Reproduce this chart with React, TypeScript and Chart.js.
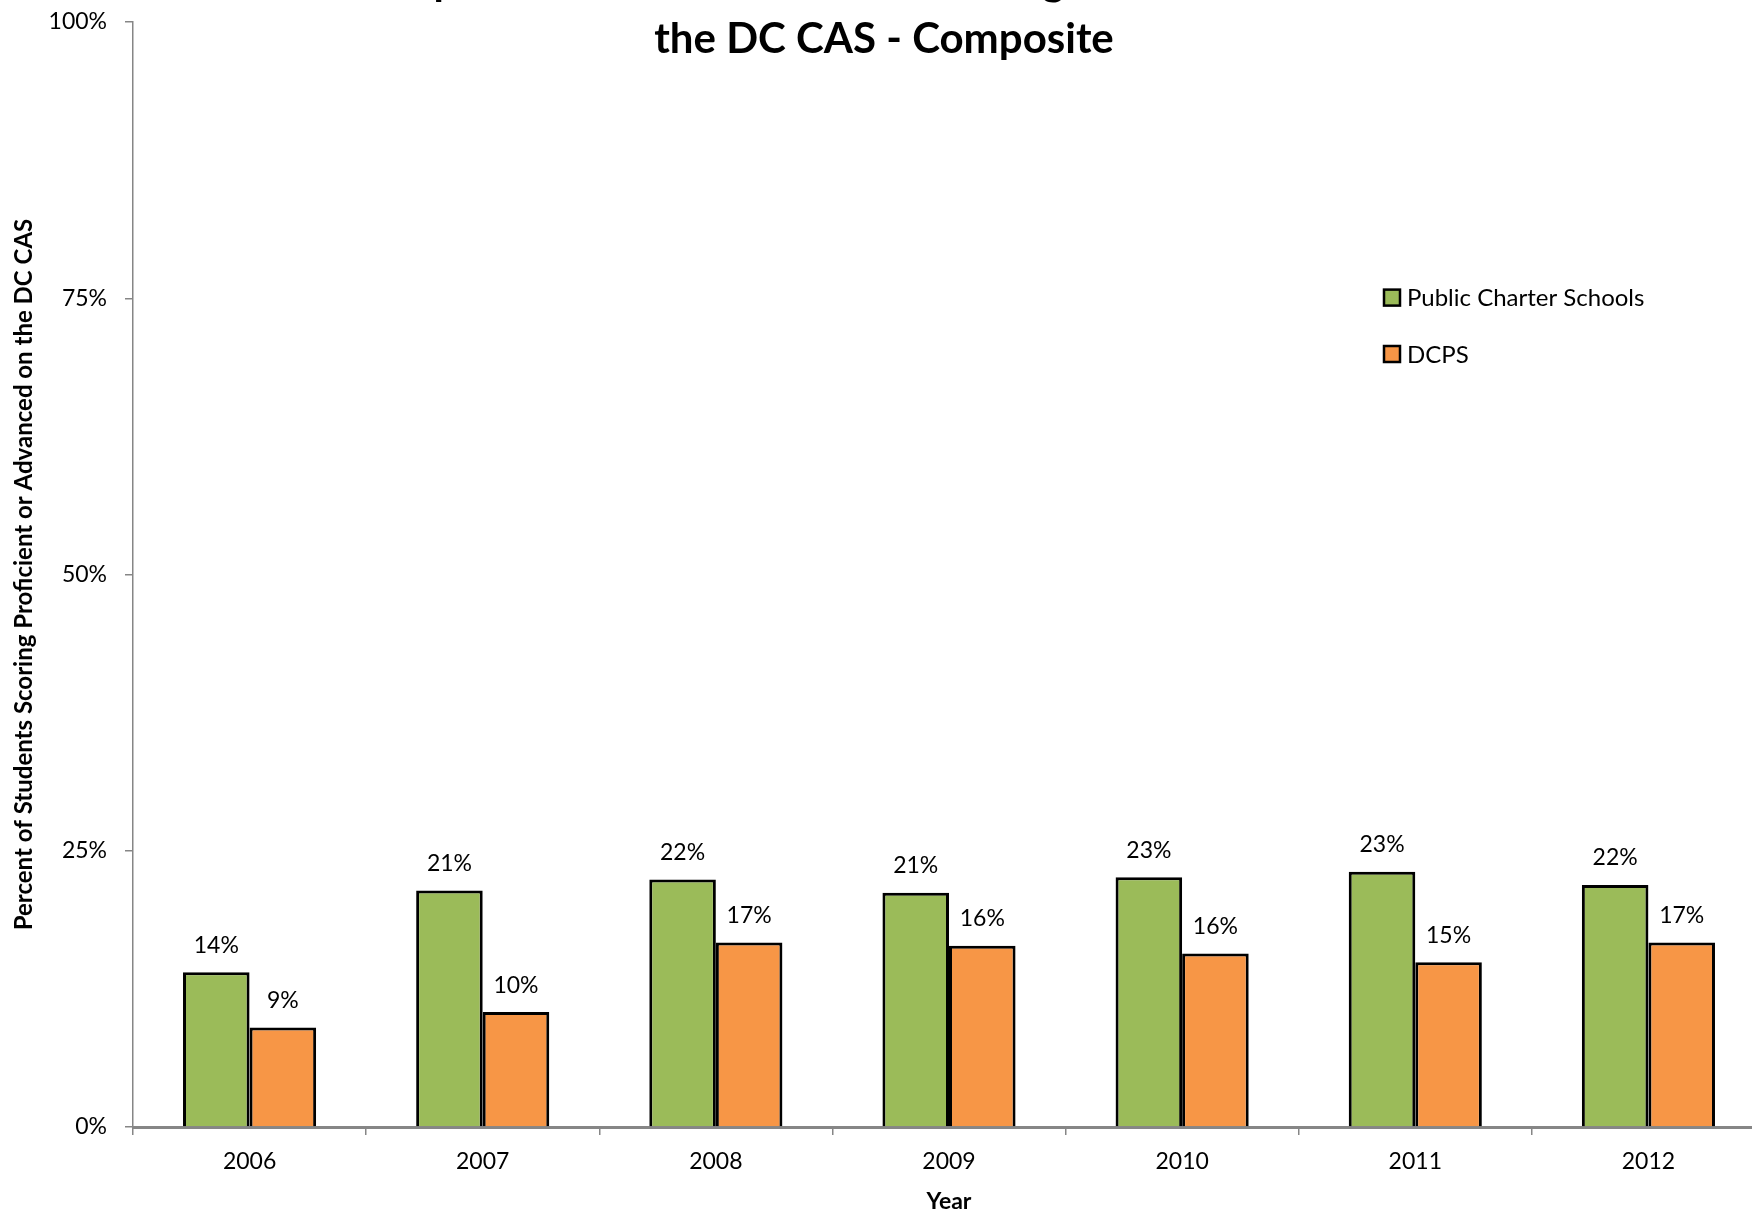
import React, { useEffect, useRef } from "react";
import { Chart, registerables } from "chart.js";

Chart.register(...registerables);

const years = ["2006", "2007", "2008", "2009", "2010", "2011", "2012"];
const charterValues = [14.0, 21.4, 22.4, 21.2, 22.6, 23.1, 21.9];
const dcpsValues = [9.0, 10.4, 16.7, 16.4, 15.7, 14.9, 16.7];
const seriesNames = ["Public Charter Schools", "DCPS"];
const seriesColors = ["#9BBB59", "#F79646"];
const yStep = 25;
const titleLines = [
  "Percent of Special Education Students Scoring Proficient or Advanced on",
  "the DC CAS - Composite",
];
const yAxisTitle = "Percent of Students Scoring Proficient or Advanced on the DC CAS";
const xAxisTitle = "Year";

const FONT = "Lato, 'Open Sans', sans-serif";

const overlayPlugin = {
  id: "overlay",
  afterDatasetsDraw(chart: any) {
    const ctx = chart.ctx as CanvasRenderingContext2D;
    ctx.save();
    // data labels
    ctx.font = `23px ${FONT}`;
    ctx.fillStyle = "#000";
    ctx.textAlign = "center";
    ctx.textBaseline = "middle";
    chart.data.datasets.forEach((ds: any, di: number) => {
      const meta = chart.getDatasetMeta(di);
      meta.data.forEach((el: any, i: number) => {
        const v = ds.data[i];
        ctx.fillText(Math.round(v) + "%", el.x, el.y - 27);
      });
    });
    // title
    ctx.font = `bold 42px ${FONT}`;
    ctx.textBaseline = "alphabetic";
    ctx.fillText(titleLines[0], 884, -5);
    ctx.fillText(titleLines[1], 884, 53);
    // legend
    ctx.font = `24px ${FONT}`;
    ctx.textAlign = "left";
    ctx.textBaseline = "middle";
    const rows = [297.6, 354];
    chart.data.datasets.forEach((ds: any, di: number) => {
      const cy = rows[di];
      ctx.fillStyle = ds.backgroundColor;
      ctx.fillRect(1384, cy - 8, 16, 16);
      ctx.lineWidth = 2.5;
      ctx.strokeStyle = "#000";
      ctx.strokeRect(1384, cy - 8, 16, 16);
      ctx.fillStyle = "#000";
      ctx.fillText(ds.label, 1407, cy + 1);
    });
    ctx.restore();
  },
};

export default function App() {
  const ref = useRef<HTMLCanvasElement>(null);
  useEffect(() => {
    const chart = new Chart(ref.current!, {
      type: "bar",
      data: {
        labels: years,
        datasets: [
          {
            label: seriesNames[0],
            data: charterValues,
            backgroundColor: seriesColors[0],
            borderColor: "#000",
            borderWidth: 3,
            categoryPercentage: 0.571,
            barPercentage: 1,
          },
          {
            label: seriesNames[1],
            data: dcpsValues,
            backgroundColor: seriesColors[1],
            borderColor: "#000",
            borderWidth: 3,
            categoryPercentage: 0.571,
            barPercentage: 1,
          },
        ],
      },
      options: {
        animation: false,
        responsive: false,
        devicePixelRatio: 1,
        layout: { padding: { left: 0, right: 15, top: 22, bottom: 0 } },
        plugins: {
          legend: { display: false },
          title: { display: false },
          tooltip: { enabled: false },
        },
        scales: {
          x: {
            offset: true,
            grid: {
              display: true,
              drawOnChartArea: false,
              offset: true,
              tickLength: 8,
              color: "#868686",
              lineWidth: 1.5,
            },
            border: { display: true, color: "#868686", width: 3 },
            ticks: { font: { family: FONT, size: 23 }, color: "#000", padding: 13 },
            title: {
              display: true,
              text: xAxisTitle,
              color: "#000",
              font: { family: FONT, size: 23, weight: "bold", lineHeight: 1.1 },
              padding: { top: 0, bottom: 0 },
            },
            afterFit: (s: any) => {
              s.height = 87;
              s.paddingLeft = 0;
              s.paddingRight = 0;
            },
          },
          y: {
            min: 0,
            max: 100,
            ticks: {
              stepSize: yStep,
              callback: (v: any) => v + "%",
              font: { family: FONT, size: 23 },
              color: "#000",
              padding: 18,
            },
            grid: {
              drawOnChartArea: false,
              tickLength: 8,
              color: "#868686",
              lineWidth: 1.5,
            },
            border: { display: true, color: "#868686", width: 1.5 },
            title: {
              display: true,
              text: yAxisTitle,
              color: "#000",
              font: { family: FONT, size: 24, weight: "bold", lineHeight: 1.2 },
              padding: { top: 10, bottom: 0 },
            },
            afterFit: (s: any) => {
              s.width = 133;
              s.paddingTop = 0;
              s.paddingBottom = 0;
            },
          },
        },
      } as any,
      plugins: [overlayPlugin],
    });
    return () => chart.destroy();
  }, []);
  return (
    <div
      style={{
        position: "fixed",
        left: 0,
        top: 0,
        width: 1752,
        height: 1214,
        overflow: "hidden",
        background: "#fff",
      }}
    >
      <canvas
        ref={ref}
        width={1780}
        height={1214}
        style={{ display: "block", width: 1780, height: 1214 }}
      />
    </div>
  );
}
